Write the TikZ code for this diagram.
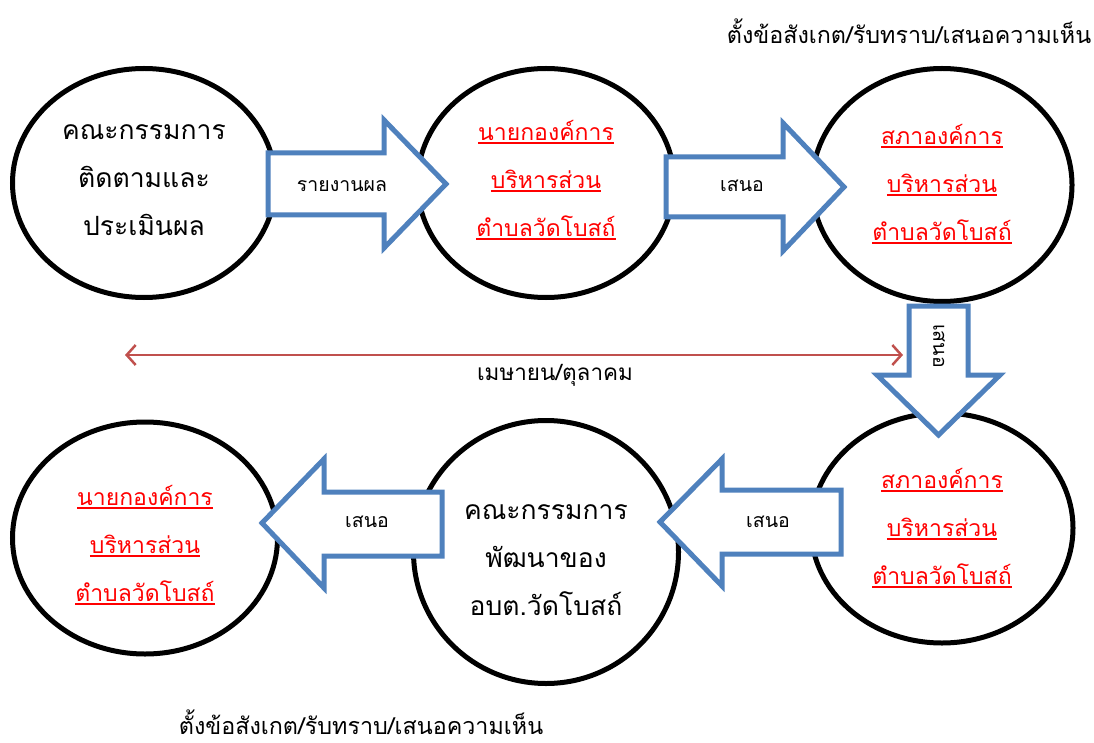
\documentclass[tikz,border=0pt]{standalone}
\usepackage{fontspec}
\setmainfont{Loma}[Script=Thai]
\newcommand{\myul}[1]{\setbox0\hbox{#1}\rlap{\rule[-4pt]{\wd0}{1.6pt}}\box0}
\usetikzlibrary{shapes.geometric,arrows.meta}
\definecolor{blkblue}{HTML}{4F81BD}
\definecolor{brownred}{HTML}{C0504D}
\begin{document}
\begin{tikzpicture}[x=1pt,y=-1pt,
  oval/.style={draw=black,line width=5pt,ellipse,inner sep=0pt,fill=white},
  blk/.style={draw=blkblue,line width=5pt,fill=white,line join=miter},
  big/.style={font=\fontsize{26.5}{48}\selectfont,align=center,inner sep=0pt},
  redtxt/.style={font=\fontsize{23}{48}\selectfont,align=center,inner sep=0pt,text=red},
  lbl/.style={font=\fontsize{19.5}{22}\selectfont,inner sep=0pt},
  mtl/.style={font=\fontsize{22.5}{26}\selectfont,inner sep=0pt},
  ttl/.style={font=\fontsize{23.3}{26}\selectfont,inner sep=0pt}]
\path[use as bounding box] (0,0) rectangle (1094,743);
% ellipses
\node[oval,minimum width=263pt,minimum height=229pt] (e1) at (144,183) {};
\node[oval,minimum width=257pt,minimum height=229pt] (e2) at (546,183) {};
\node[oval,minimum width=260pt,minimum height=233pt] (e3) at (942,185) {};
\node[oval,minimum width=265pt,minimum height=232pt] (e4) at (145,538) {};
\node[oval,minimum width=265pt,minimum height=263pt] (e5) at (546,552) {};
\node[oval,minimum width=262pt,minimum height=230pt] (e6) at (942,528) {};
% block arrows
\draw[blk] (268,153) -- (384,153) -- (384,120) -- (446,184) -- (384,248) -- (384,215) -- (268,215) -- cycle;
\draw[blk] (666,157) -- (783,157) -- (783,123) -- (844,187) -- (783,251) -- (783,217) -- (666,217) -- cycle;
\draw[blk] (909,306) -- (968,306) -- (968,375) -- (1000,375) -- (938.5,435) -- (877,375) -- (909,375) -- cycle;
\draw[blk] (841,490) -- (722,490) -- (722,459) -- (660,522) -- (722,586) -- (722,554) -- (841,554) -- cycle;
\draw[blk] (442,492) -- (324,492) -- (324,459) -- (262,523) -- (324,588) -- (324,556) -- (442,556) -- cycle;
% texts in ellipses
\node[big] (t1) at ([yshift=3pt]e1.center) {คณะกรรมการ\\ติดตามและ\\ประเมินผล};
\node[redtxt] (t2) at ([yshift=3pt]e2.center) {\myul{นายกองค์การ}\\\myul{บริหารส่วน}\\\myul{ตำบลวัดโบสถ์}};
\node[redtxt] (t3) at ([yshift=1pt]e3.center) {\myul{สภาองค์การ}\\\myul{บริหารส่วน}\\\myul{ตำบลวัดโบสถ์}};
\node[redtxt] (t4) at ([yshift=-7pt]e4.center) {\myul{นายกองค์การ}\\\myul{บริหารส่วน}\\\myul{ตำบลวัดโบสถ์}};
\node[big] (t5) at ([yshift=-8pt]e5.center) {คณะกรรมการ\\พัฒนาของ\\อบต.วัดโบสถ์};
\node[redtxt] (t6) at ([yshift=0pt]e6.center) {\myul{สภาองค์การ}\\\myul{บริหารส่วน}\\\myul{ตำบลวัดโบสถ์}};
% arrow labels
\node[lbl] (l1) at (342,186) {รายงานผล};
\node[lbl] (l2) at (742,186) {เสนอ};
\node[lbl,rotate=-90] (l3) at (939,346) {เสนอ};
\node[lbl] (l4) at (768,522) {เสนอ};
\node[lbl] (l5) at (367,522) {เสนอ};
% red double arrow
\coordinate (ra) at (125,355);
\coordinate (rb) at (903,355);
\draw[brownred,line width=2.5pt,{Straight Barb[length=9pt,width=20pt]}-{Straight Barb[length=9pt,width=20pt]}] (ra) -- (rb);
\node[mtl] (mid) at (555,375) {เมษายน/ตุลาคม};
% titles
\node[ttl] (top) at (909,31) {ตั้งข้อสังเกต/รับทราบ/เสนอความเห็น};
\node[ttl] (bot) at (361,722) {ตั้งข้อสังเกต/รับทราบ/เสนอความเห็น};
\end{tikzpicture}
\end{document}
